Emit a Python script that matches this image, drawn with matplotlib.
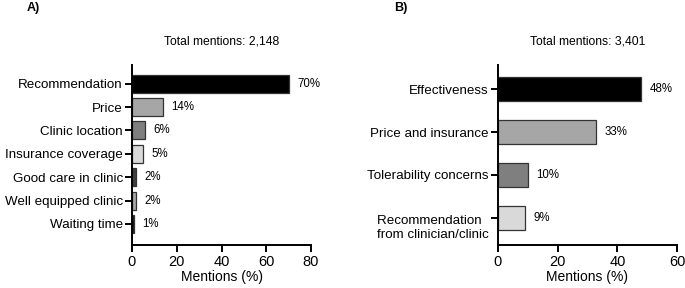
import matplotlib
matplotlib.use("Agg")
import matplotlib.pyplot as plt
from matplotlib.transforms import ScaledTranslation

plt.rcParams['font.family'] = ['Liberation Sans', 'DejaVu Sans']

# Panel A data
cats_a = ["Recommendation", "Price", "Clinic location", "Insurance coverage",
          "Good care in clinic", "Well equipped clinic", "Waiting time"]
vals_a = [70, 14, 6, 5, 2, 2, 1]
labels_a = ["70%", "14%", "6%", "5%", "2%", "2%", "1%"]
colors_a = ["#000000", "#a6a6a6", "#7f7f7f", "#d9d9d9", "#404040", "#a6a6a6", "#1a1a1a"]
title_a = "Total mentions: 2,148"
xticks_a = [0, 20, 40, 60, 80]

# Panel B data
cats_b = ["Effectiveness", "Price and insurance", "Tolerability concerns",
          "Recommendation \nfrom clinician/clinic"]
vals_b = [48, 33, 10, 9]
labels_b = ["48%", "33%", "10%", "9%"]
colors_b = ["#000000", "#a6a6a6", "#7f7f7f", "#d9d9d9"]
title_b = "Total mentions: 3,401"
xticks_b = [0, 20, 40, 60]

W, H = 685, 288
fig = plt.figure(figsize=(W / 100, H / 100), dpi=100)


def px_axes(left, top, right, bottom):
    return fig.add_axes([left / W, 1 - bottom / H, (right - left) / W, (bottom - top) / H])


def style(ax, xticks):
    for s in ["top", "right"]:
        ax.spines[s].set_visible(False)
    for s in ["left", "bottom"]:
        ax.spines[s].set_linewidth(1.4)
    ax.tick_params(axis="y", length=5, width=1.4, labelsize=9.6, pad=1.5)
    ax.tick_params(axis="x", length=5, width=1.4, labelsize=10.5, pad=2)
    ax.set_xticks(xticks)
    ax.set_xlim(xticks[0], xticks[-1])
    ax.set_xlabel("Mentions (%)", fontsize=10, labelpad=1)


# Panel A
axA = px_axes(132, 65, 311, 245)
ya = list(range(len(cats_a)))
axA.barh(ya, vals_a, height=0.77, color=colors_a, edgecolor="#333333", linewidth=0.9)
for y, v, t in zip(ya, vals_a, labels_a):
    axA.annotate(t, (v, y), xytext=(6, 0), textcoords="offset points",
                 va="center", ha="left", fontsize=8.3)
axA.set_yticks(ya)
axA.set_yticklabels(cats_a)
axA.set_ylim(6.9, -0.8)
style(axA, xticks_a)
axA.set_title(title_a, fontsize=8.7, pad=15)
fig.text(27 / W, 1 - 8 / H, "A)", fontsize=9, fontweight="bold", va="center", ha="left")

# Panel B
axB = px_axes(498, 65, 677, 245)
yb = list(range(len(cats_b)))
axB.barh(yb, vals_b, height=0.57, color=colors_b, edgecolor="#333333", linewidth=0.9)
for y, v, t in zip(yb, vals_b, labels_b):
    axB.annotate(t, (v, y), xytext=(6, 0), textcoords="offset points",
                 va="center", ha="left", fontsize=8.3)
axB.set_yticks(yb)
axB.set_yticklabels(cats_b)
axB.set_ylim(3.63, -0.56)
style(axB, xticks_b)
axB.set_title(title_b, fontsize=8.7, pad=15)
lbl = axB.get_yticklabels()[-1]
lbl.set_multialignment("left")
lbl.set_transform(lbl.get_transform() + ScaledTranslation(0, -5.5 / 72, fig.dpi_scale_trans))
fig.text(394 / W, 1 - 8 / H, "B)", fontsize=9, fontweight="bold", va="center", ha="left")

fig.savefig("out.png", dpi=100)
